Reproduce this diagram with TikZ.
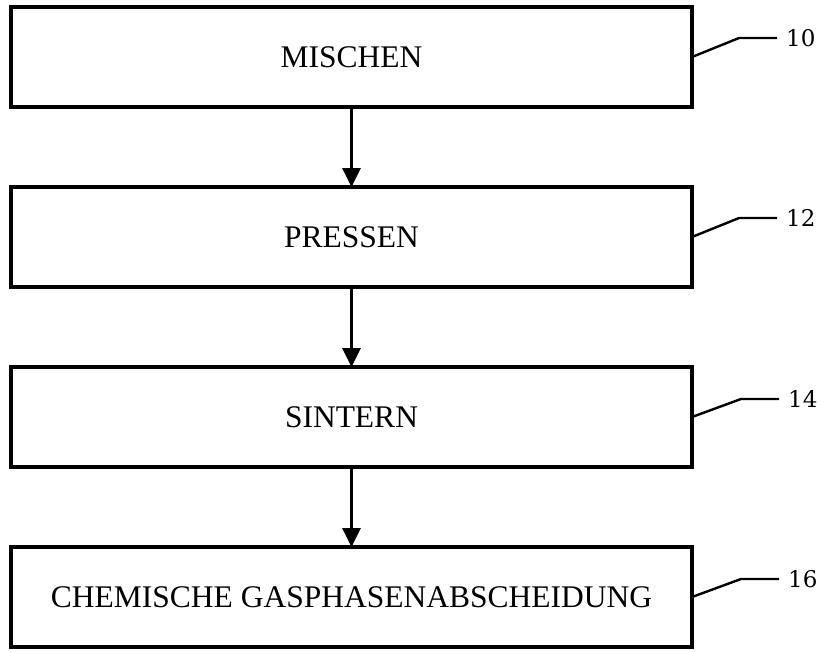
\documentclass[tikz,border=0pt]{standalone}
\usepackage{fontspec}
\setmainfont{Liberation Serif}
\newfontfamily\reffont{DejaVu Serif}
\usetikzlibrary{positioning}
\usetikzlibrary{arrows.meta}

\begin{document}
\begin{tikzpicture}[x=1pt, y=1pt,
    stepbox/.style={draw=black, line width=3.2pt, outer sep=0pt, inner sep=0pt,
        minimum width=681pt, minimum height=100pt, font=\fontsize{31.5}{36}\selectfont},
    flow/.style={line width=3pt, -{Triangle[width=18pt, length=19pt]}},
    leader/.style={line width=2.4pt},
    reflabel/.style={inner sep=0pt, font=\reffont\fontsize{23}{26}\selectfont},
  ]
  \useasboundingbox (0,0) rectangle (826,-651);

  \node[stepbox] (MIX) at (351.5,-57) {MISCHEN};
  \node[stepbox, below=80pt of MIX] (PRESS) {PRESSEN};
  \node[stepbox, below=80pt of PRESS] (SINTER) {SINTERN};
  \node[stepbox, below=80pt of SINTER] (CVD) {CHEMISCHE GASPHASENABSCHEIDUNG};

  \coordinate[above right=19pt and 47pt of MIX.east] (MIXBEND);
  \coordinate[right=38pt of MIXBEND] (MIXEND);
  \node[reflabel, right=9pt of MIXEND] (MIXREF) {10};
  \coordinate[above right=19pt and 47pt of PRESS.east] (PRESSBEND);
  \coordinate[right=38pt of PRESSBEND] (PRESSEND);
  \node[reflabel, right=9pt of PRESSEND] (PRESSREF) {12};
  \coordinate[above right=18pt and 49pt of SINTER.east] (SINTERBEND);
  \coordinate[right=38pt of SINTERBEND] (SINTEREND);
  \node[reflabel, right=9pt of SINTEREND] (SINTERREF) {14};
  \coordinate[above right=18pt and 49pt of CVD.east] (CVDBEND);
  \coordinate[right=38pt of CVDBEND] (CVDEND);
  \node[reflabel, right=9pt of CVDEND] (CVDREF) {16};

  \draw [flow] (MIX) -- (PRESS);
  \draw [flow] (PRESS) -- (SINTER);
  \draw [flow] (SINTER) -- (CVD);
  \draw [leader] (MIX.east) -- (MIXBEND) -- (MIXEND);
  \draw [leader] (PRESS.east) -- (PRESSBEND) -- (PRESSEND);
  \draw [leader] (SINTER.east) -- (SINTERBEND) -- (SINTEREND);
  \draw [leader] (CVD.east) -- (CVDBEND) -- (CVDEND);

\end{tikzpicture}
\end{document}
